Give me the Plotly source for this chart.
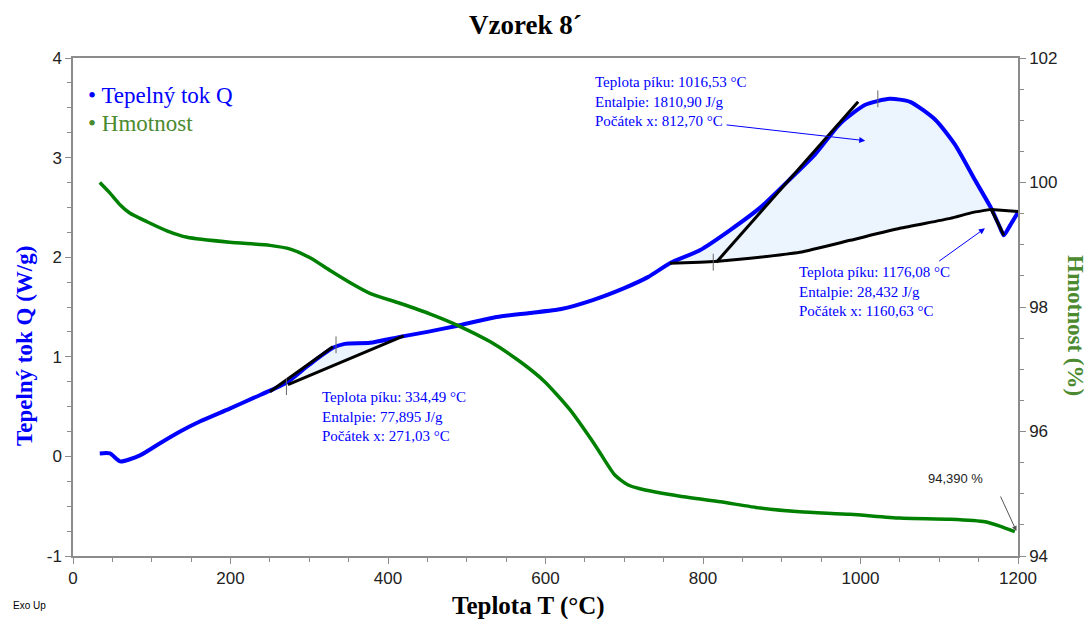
import numpy as np
import plotly.graph_objects as go

# ---------------- data ----------------
# Heat flow Q (W/g) vs temperature
T_q = [34, 47, 60, 85, 110, 136, 161, 199, 230, 253, 273, 300, 330, 345, 377, 415, 450, 487,
       538, 580, 620, 660, 700, 730, 758, 796, 834, 873, 910, 942, 974, 1006, 1037, 1063, 1095,
       1120, 1145, 1166, 1177, 1182, 1190, 1200]
Q = [0.03, 0.03, -0.05, 0.01, 0.13, 0.25, 0.35, 0.48, 0.59, 0.67, 0.75, 0.92, 1.09, 1.13, 1.14,
     1.20, 1.25, 1.31, 1.40, 1.44, 1.48, 1.57, 1.69, 1.80, 1.94, 2.07, 2.27, 2.50, 2.78, 3.03,
     3.34, 3.53, 3.59, 3.56, 3.38, 3.13, 2.78, 2.49, 2.30, 2.22, 2.32, 2.45]

# Mass (%) vs temperature
T_m = [34, 47, 60, 72, 94, 120, 145, 199, 250, 276, 301, 326, 352, 377, 415, 453, 491, 530,
       568, 599, 631, 663, 688, 705, 720, 771, 822, 873, 923, 987, 1050, 1114, 1158, 1177, 1196]
M = [100.0, 99.83, 99.64, 99.51, 99.37, 99.22, 99.12, 99.04, 98.99, 98.93, 98.79, 98.59, 98.39,
     98.22, 98.06, 97.89, 97.69, 97.44, 97.12, 96.80, 96.35, 95.78, 95.30, 95.14, 95.08, 94.96,
     94.87, 94.77, 94.71, 94.67, 94.61, 94.59, 94.55, 94.48, 94.39]

# Peak evaluation lines
base1_T = [758, 796, 819, 860, 923, 987, 1050, 1114, 1143, 1166]
base1_Q = [1.94, 1.95, 1.96, 1.99, 2.05, 2.17, 2.29, 2.39, 2.45, 2.48]
tan1_T = [817, 997]
tan1_Q = [1.95, 3.56]
base2_T = [1166, 1200]
base2_Q = [2.48, 2.46]
tan2_T = [1166, 1182]
tan2_Q = [2.48, 2.22]
base0_T = [273, 420]
base0_Q = [0.72, 1.21]
tan0_T = [250, 330]
tan0_Q = [0.65, 1.10]
mark_T = [271, 334, 813, 1022]
mark_Q = [0.70, 1.12, 1.95, 3.59]

peak_texts = [
    "Teplota píku: 334,49 °C<br>Entalpie: 77,895 J/g<br>Počátek x: 271,03 °C",
    "Teplota píku: 1016,53 °C<br>Entalpie: 1810,90 J/g<br>Počátek x: 812,70 °C",
    "Teplota píku: 1176,08 °C<br>Entalpie: 28,432 J/g<br>Počátek x: 1160,63 °C",
]
mass_end_text = "94,390 %"

x_ticks = [0, 200, 400, 600, 800, 1000, 1200]
y_ticks = [-1, 0, 1, 2, 3, 4]
y_ticktext = ["-1", "0", "1", "2", "3", "4"]
y2_ticks = [94, 96, 98, 100, 102]

BLUE = "#0000ff"
GREEN = "#008000"
LEGEND_GREEN = "#4b8a2f"
SERIF = "Liberation Serif, Times New Roman, serif"
SANS = "Liberation Sans, Arial, sans-serif"

fig = go.Figure()

# filled peak areas (blue curve vs baseline)
def fill_poly(bT, bQ):
    t0, t1 = bT[0], bT[-1]
    tq = np.array(T_q, float)
    sel = (tq > t0) & (tq < t1)
    ct = [t0] + list(tq[sel]) + [t1]
    cq = list(np.interp(ct, T_q, Q))
    cq[0], cq[-1] = bQ[0], bQ[-1]
    return ct + list(bT[::-1]), cq + list(bQ[::-1])

for bT, bQ in [(base1_T, base1_Q), (base0_T, base0_Q)]:
    fx, fy = fill_poly(bT, bQ)
    fig.add_trace(go.Scatter(x=fx, y=fy, fill="toself", fillcolor="#ecf4fd",
                             line=dict(width=0, shape="spline", smoothing=0.6), mode="lines",
                             hoverinfo="skip", showlegend=False))

fig.add_trace(go.Scatter(x=T_q, y=Q, mode="lines",
                         line=dict(color=BLUE, width=4, shape="spline", smoothing=0.6),
                         showlegend=False))

for tx, ty in [(base1_T, base1_Q), (tan1_T, tan1_Q), (base2_T, base2_Q), (tan2_T, tan2_Q),
               (base0_T, base0_Q), (tan0_T, tan0_Q)]:
    fig.add_trace(go.Scatter(x=tx, y=ty, mode="lines",
                             line=dict(color="black", width=3, shape="spline", smoothing=0.5),
                             showlegend=False))

fig.add_trace(go.Scatter(x=mark_T, y=mark_Q, mode="markers",
                         marker=dict(symbol="line-ns", size=12, line=dict(color="#666666", width=1)),
                         showlegend=False))

fig.add_trace(go.Scatter(x=T_m, y=M, yaxis="y2", mode="lines",
                         line=dict(color=GREEN, width=3.5, shape="spline", smoothing=0.6),
                         showlegend=False))

ann = []
# peak texts
for (x, y), t in zip([(314, 0.70), (660, 3.86), (919, 1.95)], peak_texts):
    ann.append(dict(x=x, y=y, xref="x", yref="y", text=t, showarrow=False, xanchor="left",
                    yanchor="top", align="left", font=dict(family=SERIF, size=15, color=BLUE)))
# arrows
ann.append(dict(x=1006, y=3.17, ax=828, ay=3.33, xref="x", yref="y", axref="x", ayref="y",
                text="", showarrow=True, arrowhead=2, arrowsize=1.2, arrowwidth=1, arrowcolor=BLUE))
ann.append(dict(x=1158, y=2.29, ax=1098, ay=1.95, xref="x", yref="y", axref="x", ayref="y",
                text="", showarrow=True, arrowhead=2, arrowsize=1.2, arrowwidth=1, arrowcolor=BLUE))
ann.append(dict(x=1198, y=94.40, ax=1177, ay=94.98, xref="x", yref="y2", axref="x", ayref="y2",
                text="", showarrow=True, arrowhead=2, arrowsize=1, arrowwidth=1, arrowcolor="#555555"))
ann.append(dict(x=1120, y=95.25, xref="x", yref="y2", text=mass_end_text, showarrow=False,
                font=dict(family=SANS, size=13, color="#222222")))

# page-pixel -> paper helpers (plot area: x 73..1018, y 58..556 in page pixels)
def px(xp):
    return (xp - 73) / 945.0

def py(yp):
    return (556 - yp) / 498.0

def label(xp, yp, text, size, color, family=SERIF, angle=0, xanchor="center"):
    ann.append(dict(x=px(xp), y=py(yp), xref="paper", yref="paper", text=text, showarrow=False,
                    xanchor=xanchor, yanchor="middle", textangle=angle,
                    font=dict(family=family, size=size, color=color)))

# legend
label(86, 96, "• Tepelný tok Q", 23, BLUE, xanchor="left")
label(86, 124, "• Hmotnost", 23, LEGEND_GREEN, xanchor="left")
# titles
label(525, 25, "<b>Vzorek 8´</b>", 27, "black")
label(528, 606, "<b>Teplota T (°C)</b>", 25, "black")
label(24, 346, "<b>Tepelný tok Q (W/g)</b>", 23, BLUE, angle=-90)
label(1076, 325, "<b>Hmotnost (%)</b>", 23, LEGEND_GREEN, angle=90)
label(11, 605, "Exo Up", 10, "black", family=SANS, xanchor="left")

axis_common = dict(showgrid=False, zeroline=False, showline=True, linecolor="#8c8c8c", linewidth=1.5,
                   ticks="outside", ticklen=6, tickcolor="#8c8c8c",
                   tickfont=dict(family=SANS, size=17, color="#222222"))

# body of the page has an 8px margin, so the figure is sized to fit the window
fig.update_layout(
    width=1084, height=611,
    margin=dict(l=65, r=74, t=50, b=63),
    paper_bgcolor="white", plot_bgcolor="white",
    showlegend=False,
    annotations=ann,
    xaxis=dict(range=[0, 1200], tickvals=x_ticks, mirror=True,
               minor=dict(dtick=50, ticks="outside", ticklen=4, tickcolor="#8c8c8c"), **axis_common),
    yaxis=dict(range=[-1, 4], tickvals=y_ticks, ticktext=y_ticktext,
               minor=dict(dtick=0.25, ticks="outside", ticklen=4, tickcolor="#8c8c8c"), **axis_common),
    yaxis2=dict(range=[94, 102], tickvals=y2_ticks, overlaying="y", side="right",
                minor=dict(dtick=0.5, ticks="outside", ticklen=4, tickcolor="#8c8c8c"), **axis_common),
)

fig.write_html("out.html")
